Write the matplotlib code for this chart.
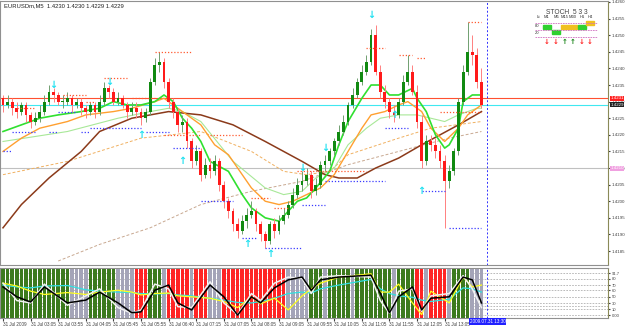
import matplotlib
matplotlib.use('Agg')
import matplotlib.pyplot as plt

plt.rcParams['font.family'] = ['Liberation Sans', 'DejaVu Sans']

W, H = 625, 327

symbol_text = 'EURUSDm,M5  1.4230 1.4230 1.4229 1.4229'

bar_open = [1.4231, 1.4229, 1.4230, 1.4228, 1.4227, 1.4229, 1.4226, 1.4224, 1.4225, 1.4227,
            1.4230, 1.4233, 1.4232, 1.4230, 1.4230, 1.4231, 1.4229, 1.4230, 1.4228, 1.4227,
            1.4229, 1.4227, 1.4230, 1.4234, 1.4233, 1.4230, 1.4231, 1.4229, 1.4227, 1.4228,
            1.4227, 1.4225, 1.4227, 1.4236, 1.4241, 1.4242, 1.4236, 1.4230, 1.4227, 1.4223,
            1.4224, 1.4218, 1.4212, 1.4215, 1.4208, 1.4211, 1.4209, 1.4212, 1.4205, 1.4200,
            1.4197, 1.4193, 1.4191, 1.4194, 1.4196, 1.4197, 1.4193, 1.4190, 1.4188, 1.4193,
            1.4191, 1.4194, 1.4196, 1.4199, 1.4202, 1.4205, 1.4206, 1.4208, 1.4203, 1.4205,
            1.4211, 1.4212, 1.4215, 1.4218, 1.4221, 1.4224, 1.4229, 1.4232, 1.4236, 1.4239,
            1.4242, 1.4250, 1.4239, 1.4233, 1.4230, 1.4227, 1.4226, 1.4230, 1.4236, 1.4239,
            1.4233, 1.4224, 1.4212, 1.4218, 1.4217, 1.4215, 1.4212, 1.4206, 1.4209, 1.4215,
            1.4230, 1.4239, 1.4245, 1.4244, 1.4236]
bar_close = [1.4229, 1.4230, 1.4228, 1.4227, 1.4229, 1.4226, 1.4224, 1.4225, 1.4227, 1.4230,
             1.4233, 1.4232, 1.4230, 1.4230, 1.4231, 1.4229, 1.4230, 1.4228, 1.4227, 1.4229,
             1.4227, 1.4230, 1.4234, 1.4233, 1.4230, 1.4231, 1.4229, 1.4227, 1.4228, 1.4227,
             1.4225, 1.4227, 1.4236, 1.4241, 1.4242, 1.4236, 1.4230, 1.4227, 1.4223, 1.4224,
             1.4218, 1.4212, 1.4215, 1.4208, 1.4211, 1.4209, 1.4212, 1.4205, 1.4200, 1.4197,
             1.4193, 1.4191, 1.4194, 1.4196, 1.4197, 1.4193, 1.4190, 1.4188, 1.4193, 1.4191,
             1.4194, 1.4196, 1.4199, 1.4202, 1.4205, 1.4206, 1.4208, 1.4203, 1.4205, 1.4211,
             1.4212, 1.4215, 1.4218, 1.4221, 1.4224, 1.4229, 1.4232, 1.4236, 1.4239, 1.4242,
             1.4250, 1.4239, 1.4233, 1.4230, 1.4227, 1.4226, 1.4230, 1.4236, 1.4239, 1.4233,
             1.4224, 1.4212, 1.4218, 1.4217, 1.4215, 1.4212, 1.4206, 1.4209, 1.4215, 1.4230,
             1.4239, 1.4245, 1.4244, 1.4236, 1.4229]
bar_high = [1.4232, 1.4232, 1.4231, 1.4230, 1.4230, 1.4230, 1.4227, 1.4227, 1.4229, 1.4232,
            1.4235, 1.4234, 1.4233, 1.4232, 1.4233, 1.4232, 1.4231, 1.4231, 1.4229, 1.4230,
            1.4230, 1.4232, 1.4236, 1.4235, 1.4234, 1.4233, 1.4232, 1.4230, 1.4230, 1.4230,
            1.4228, 1.4228, 1.4237, 1.4243, 1.4245, 1.4243, 1.4237, 1.4231, 1.4228, 1.4226,
            1.4225, 1.4219, 1.4217, 1.4216, 1.4213, 1.4213, 1.4214, 1.4213, 1.4206, 1.4201,
            1.4198, 1.4195, 1.4196, 1.4198, 1.4200, 1.4198, 1.4194, 1.4191, 1.4194, 1.4195,
            1.4196, 1.4198, 1.4200, 1.4204, 1.4207, 1.4209, 1.4210, 1.4209, 1.4207, 1.4212,
            1.4214, 1.4216, 1.4219, 1.4223, 1.4226, 1.4230, 1.4234, 1.4237, 1.4241, 1.4244,
            1.4252, 1.4253, 1.4241, 1.4235, 1.4231, 1.4229, 1.4231, 1.4238, 1.4244, 1.4241,
            1.4235, 1.4226, 1.4220, 1.4220, 1.4219, 1.4217, 1.4214, 1.4211, 1.4216, 1.4231,
            1.4241, 1.4254, 1.4250, 1.4246, 1.4240]
bar_low = [1.4227, 1.4228, 1.4226, 1.4225, 1.4226, 1.4224, 1.4222, 1.4223, 1.4224, 1.4226,
           1.4229, 1.4230, 1.4229, 1.4228, 1.4229, 1.4227, 1.4228, 1.4226, 1.4225, 1.4226,
           1.4225, 1.4226, 1.4229, 1.4231, 1.4229, 1.4229, 1.4228, 1.4225, 1.4226, 1.4225,
           1.4223, 1.4224, 1.4226, 1.4235, 1.4239, 1.4234, 1.4228, 1.4225, 1.4221, 1.4221,
           1.4216, 1.4210, 1.4211, 1.4206, 1.4207, 1.4207, 1.4208, 1.4203, 1.4198, 1.4195,
           1.4191, 1.4189, 1.4190, 1.4192, 1.4195, 1.4191, 1.4188, 1.4186, 1.4187, 1.4189,
           1.4190, 1.4193, 1.4195, 1.4198, 1.4201, 1.4203, 1.4205, 1.4201, 1.4202, 1.4204,
           1.4209, 1.4211, 1.4214, 1.4217, 1.4220, 1.4223, 1.4228, 1.4231, 1.4235, 1.4238,
           1.4241, 1.4238, 1.4231, 1.4228, 1.4225, 1.4224, 1.4225, 1.4229, 1.4235, 1.4232,
           1.4222, 1.4210, 1.4211, 1.4215, 1.4213, 1.4210, 1.4192, 1.4204, 1.4208, 1.4214,
           1.4229, 1.4238, 1.4241, 1.4234, 1.4228]

fast_idx = [0, 4, 8, 12, 17, 21, 24, 27, 30, 33, 35, 37, 39, 41, 43, 45, 49, 52, 54, 57, 60,
            62, 64, 66, 68, 71, 73, 75, 78, 80, 82, 84, 86, 89, 90, 92, 94, 96, 97, 99, 100, 102, 104]
fast_ma = [1.4221, 1.4223, 1.4225, 1.4226, 1.4227, 1.4228, 1.4230, 1.4229, 1.4229, 1.4230, 1.4232,
           1.4230, 1.4225, 1.4222, 1.4218, 1.4212, 1.4209, 1.4202, 1.4198, 1.4195, 1.4194,
           1.4197, 1.4200, 1.4201, 1.4204, 1.4209, 1.4217, 1.4224, 1.4231, 1.4235, 1.4235,
           1.4232, 1.4232, 1.4234, 1.4231, 1.4227, 1.4220, 1.4216, 1.4217, 1.4222, 1.4230,
           1.4232, 1.4232]
mid_idx = [0, 4, 8, 14, 18, 24, 28, 33, 35, 37, 40, 43, 46, 49, 52, 54, 57, 60, 63, 66, 69,
           72, 75, 78, 80, 83, 86, 88, 91, 93, 96, 99, 101, 103, 104]
mid_ma = [1.4215, 1.4219, 1.4222, 1.4224, 1.4226, 1.4227, 1.4228, 1.4230, 1.4231, 1.4229,
          1.4226, 1.4223, 1.4217, 1.4214, 1.4208, 1.4204, 1.4200, 1.4199, 1.4200, 1.4202,
          1.4204, 1.4208, 1.4215, 1.4222, 1.4226, 1.4227, 1.4229, 1.4230, 1.4227, 1.4222,
          1.4218, 1.4222, 1.4226, 1.4228, 1.4229]
slow_idx = [0, 14, 25, 32, 36, 39, 43, 50, 57, 61, 65, 68, 72, 75, 79, 82, 86, 90, 93, 96, 99, 103, 104]
slow_ma = [1.4218, 1.4221, 1.4225, 1.4227, 1.4228, 1.4227, 1.4224, 1.4212, 1.4204, 1.4202,
           1.4203, 1.4207, 1.4210, 1.4217, 1.4222, 1.4225, 1.4226, 1.4226, 1.4225, 1.4224,
           1.4226, 1.4228, 1.4228]
ma50_idx = [0, 14, 30, 43, 54, 61, 66, 71, 75, 86, 93, 104]
ma50 = [1.4208, 1.4212, 1.4219, 1.4221, 1.4215, 1.4209, 1.4208, 1.4209, 1.4214, 1.4219, 1.4222, 1.4224]
ma100_idx = [0, 4, 10, 17, 21, 28, 36, 43, 50, 57, 65, 70, 73, 77, 81, 86, 91, 95, 99, 104]
ma100 = [1.4192, 1.4199, 1.4207, 1.4215, 1.4221, 1.4225, 1.4227, 1.4226, 1.4223, 1.4218,
         1.4212, 1.4208, 1.4207, 1.4207, 1.4210, 1.4213, 1.4217, 1.4220, 1.4223, 1.4227]
ma200_idx = [12, 21, 32, 43, 54, 65, 75, 86, 97, 104]
ma200 = [1.4182, 1.4187, 1.4192, 1.4199, 1.4203, 1.4206, 1.4211, 1.4215, 1.4219, 1.4221]

ask_line = 1.4231
bid_line = 1.4229
level_line = 1.4210
price_ticks = [1.4260, 1.4255, 1.4250, 1.4245, 1.4240, 1.4235, 1.4230, 1.4225, 1.4220,
               1.4215, 1.4210, 1.4205, 1.4200, 1.4195, 1.4190, 1.4185]

# (first bar, last bar, price)
resist_levels = [(3, 7, 1.4228), (13, 18, 1.4232), (18, 20, 1.4230), (22, 27, 1.4237),
                 (28, 33, 1.4231), (33, 41, 1.4245), (35, 43, 1.4220), (45, 52, 1.4220),
                 (54, 58, 1.4201), (59, 62, 1.4198), (64, 79, 1.4209), (79, 83, 1.4246),
                 (86, 89, 1.4244), (90, 92, 1.4243), (95, 104, 1.4227), (101, 104, 1.4254)]
support_levels = [(0, 2, 1.4215), (2, 7, 1.4221), (10, 12, 1.4221), (12, 16, 1.4227),
                  (17, 19, 1.4221), (19, 30, 1.4222), (31, 36, 1.4221), (37, 43, 1.4216),
                  (43, 50, 1.4200), (52, 55, 1.4189), (57, 65, 1.4186), (65, 70, 1.4199),
                  (70, 83, 1.4206), (83, 88, 1.4222), (91, 96, 1.4203), (97, 104, 1.4192)]
down_arrows = [(11, 1.4235), (23, 1.4236), (65, 1.4210), (70, 1.4216), (80, 1.4256)]
up_arrows = [(30, 1.4220), (39, 1.4212), (53, 1.4187), (58, 1.4184), (85, 1.4226), (91, 1.4203)]

# stochastic sub window
stoch_idx = [0, 3, 6, 9, 14, 18, 21, 25, 28, 30, 33, 36, 38, 41, 45, 48, 51, 54, 56, 59,
             62, 65, 67, 69, 73, 80, 82, 84, 86, 89, 91, 93, 97, 100, 102, 104]
stoch_black = [64, 43, 32, 64, 30, 36, 53, 30, 9, 11, 57, 68, 30, 15, 68, 43, 4, 43, 30, 62,
               79, 85, 57, 79, 85, 89, 51, 9, 43, 64, 15, 40, 43, 85, 79, 30]
stoch_white = [72, 35, 30, 70, 25, 45, 60, 20, 8, 15, 70, 60, 22, 20, 75, 30, 5, 50, 35, 72,
               85, 82, 50, 85, 88, 85, 35, 8, 55, 60, 12, 45, 50, 88, 60, 20]
stoch_cyan = [68, 64, 62, 66, 67, 58, 55, 53, 52, 50, 49, 50, 47, 45, 40, 36, 31, 30, 33, 40,
              50, 53, 51, 60, 68, 80, 60, 50, 45, 42, 36, 33, 38, 62, 60, 53]
stoch_yellow = [72, 66, 55, 48, 52, 48, 53, 57, 53, 47, 50, 51, 45, 43, 40, 33, 20, 43, 28, 40,
                15, 45, 60, 72, 85, 92, 53, 53, 70, 30, 5, 55, 30, 85, 64, 68]
stripe_state = ('GGGGGGGGGGGGGGG' 'SSSS' 'GGGGGG' 'SSSS' 'RRR' 'GGG' 'S' 'RRRRR' 'S' 'RRR'
                'SSS' 'RRRRRRRRRRRRRR' 'SSSSS' 'GGGSGGGGGSGGGGGGGGSGGGG' 'RR' 'S' 'RRRR'
                'S' 'GGGG' 'SSS')
sub_levels = [93.6, 80.9, 68.1, 57.4, 42.6, 29.8, 23.4, 17.0, 4.0]
sub_tick_vals = [93.6, 80.9, 68.1, 57.4, 42.6, 29.8, 17.0, 4.0]
sub_labels = ['91.7', '80', '70', '60', '50', '30', '10', '0.00']

time_idx = [0, 6, 12, 18, 24, 30, 36, 42, 48, 54, 60, 66, 72, 78, 84, 90, 96]
time_labels = ['31 Jul 2009', '31 Jul 03:05', '31 Jul 03:55', '31 Jul 04:05', '31 Jul 05:45',
               '31 Jul 05:55', '31 Jul 06:40', '31 Jul 07:15', '31 Jul 07:05', '31 Jul 08:05',
               '31 Jul 09:05', '31 Jul 09:55', '31 Jul 10:05', '31 Jul 11:05', '31 Jul 11:55',
               '31 Jul 12:05', '31 Jul 13:05']
cursor_bar = 105.2
cursor_text = '2009.07.31 13:30'

# multi timeframe stoch panel
tf_labels = ['Lt', 'M1', 'M5', 'M15', 'M30', 'H1', 'H4']
tf_state = ['G', 'G', 'Y', 'Y', 'G', 'Y']
tf_row = [27, 32, 27, 27, 27, 23]
tf_dir = ['down', 'down', 'up', 'up', 'down', 'down']


def px(x, y):
    return x / W, 1 - y / H


fig = plt.figure(figsize=(W / 100, H / 100), dpi=100)
fig.patch.set_facecolor('white')
ax = fig.add_axes([0, (H - 265) / H, 608 / W, 264 / H])
ax2 = fig.add_axes([0, (H - 318) / H, 608 / W, 50 / H], sharex=ax)

ax.set_xlim(-0.65, 131.5)
ax.set_ylim(1.41808, 1.42603)

for a in (ax, ax2):
    for s in a.spines.values():
        s.set_color('#909090')
        s.set_linewidth(0.8)
    a.spines['right'].set_color('#8a8a58')
    a.set_facecolor('white')

# horizontal price lines
ax.axhline(level_line, color='#c0c0c0', lw=0.8, zorder=1)
ax.axhline(ask_line, color='#ff5030', lw=0.8, zorder=1)
ax.axhline(bid_line, color='#40e8f0', lw=0.8, zorder=1)

# moving averages
ax.plot(ma200_idx, ma200, color='#c8a890', lw=0.7, ls=(0, (3, 2)), zorder=2)
ax.plot(ma50_idx, ma50, color='#f0b060', lw=0.7, ls=(0, (3, 2)), zorder=2)
ax.plot(slow_idx, slow_ma, color='#a8e898', lw=0.8, zorder=2)
ax.plot(ma100_idx, ma100, color='#8b3a1a', lw=1.1, zorder=2)
ax.plot(mid_idx, mid_ma, color='#ffa030', lw=1.0, zorder=3)
ax.plot(fast_idx, fast_ma, color='#30e030', lw=1.2, zorder=3)

# candles
n = len(bar_close)
idx = list(range(n))
body_col = ['#118a11' if c >= o else '#ff1a1a' for o, c in zip(bar_open, bar_close)]
wick_col = ['#70a070' if c >= o else '#ff8080' for o, c in zip(bar_open, bar_close)]
ax.vlines(idx, bar_low, bar_high, colors=wick_col, lw=0.7, zorder=4)
bottoms = [min(o, c) for o, c in zip(bar_open, bar_close)]
heights = [max(abs(c - o), 0.00002) for o, c in zip(bar_open, bar_close)]
ax.bar(idx, heights, bottom=bottoms, width=0.62, color=body_col, zorder=5, linewidth=0)

# dotted support / resistance
for a0, a1, p in resist_levels:
    ax.plot([a0, a1], [p, p], color='#ff5a30', lw=0.9, ls=(0, (1, 1.5)), zorder=6)
for a0, a1, p in support_levels:
    ax.plot([a0, a1], [p, p], color='#3a3aff', lw=0.9, ls=(0, (1, 1.5)), zorder=6)
for i, p in down_arrows:
    ax.text(i, p, '\u2193', color='#20e0f0', fontsize=7, fontweight='bold', family='DejaVu Sans',
            ha='center', va='center', zorder=7)
for i, p in up_arrows:
    ax.text(i, p, '\u2191', color='#20e0f0', fontsize=7, fontweight='bold', family='DejaVu Sans',
            ha='center', va='center', zorder=7)

ax.axvline(cursor_bar, color='#3030ff', lw=0.7, ls=(0, (2, 2)), zorder=6)

# right price scale
ax.yaxis.tick_right()
ax.set_yticks(price_ticks)
ax.set_yticklabels(['%.4f' % t for t in price_ticks])
ax.tick_params(axis='y', labelsize=3.2, length=1.5, pad=1, colors='#404040')
ax.tick_params(axis='x', bottom=False, labelbottom=False)

for p, txt, bg in [(ask_line, '1.4231', '#ff2020'), (bid_line, '1.4229', '#202020'),
                   (level_line, '1.4210', '#f0a0e0')]:
    ax.text(1.004, p, txt, transform=ax.get_yaxis_transform(), fontsize=3.2, color='white',
            va='center', ha='left', bbox=dict(boxstyle='square,pad=0.12', fc=bg, ec='none'))

fig.text(*px(4, 6), symbol_text, fontsize=4.2, va='center', ha='left', color='#202020')

# multi timeframe panel
fig.text(*px(567, 12), 'STOCH  5 3 3', fontsize=4.8, ha='center', va='center', color='#404040')
col_x = [538, 547, 556, 565, 573, 582, 590]
for x, lab in zip(col_x, tf_labels):
    fig.text(*px(x, 17), lab, fontsize=3.0, ha='center', va='center', color='#303030')
for y in (23, 30, 37):
    fig.add_artist(plt.Line2D([535 / W, 597 / W], [1 - y / H, 1 - y / H], color='#d070c0',
                              lw=0.6, ls=(0, (2, 1))))
fig.text(*px(537, 26), '80', fontsize=3.0, ha='center', va='center', color='#303030')
fig.text(*px(537, 33), '20', fontsize=3.0, ha='center', va='center', color='#303030')
for x, st, row, d in zip(col_x[1:], tf_state, tf_row, tf_dir):
    c = '#30d030' if st == 'G' else '#f0c020'
    fig.add_artist(plt.Rectangle(((x - 4) / W, 1 - (row + 2) / H), 8 / W, 4 / H, color=c))
    fig.text(*px(x, 42), '\u2191' if d == 'up' else '\u2193', fontsize=5, fontweight='bold',
             family='DejaVu Sans', ha='center', va='center',
             color='#108010' if d == 'up' else '#ff2020')

# stochastic window
ax2.set_ylim(-2.1, 104.3)
for lv in sub_levels:
    ax2.axhline(lv, color='#b0b0b0', lw=0.6, ls=(0, (2, 1.5)), zorder=0)
stripe_col = {'G': '#3c7a1e', 'R': '#ff2424', 'S': '#a4a4b8'}
ax2.bar(idx, 106.4, bottom=-2.1, width=0.78, color=[stripe_col[s] for s in stripe_state],
        linewidth=0, zorder=1)
ax2.plot(stoch_idx, stoch_cyan, color='#30e0e0', lw=0.9, zorder=3)
ax2.plot(stoch_idx, stoch_yellow, color='#ffff20', lw=0.9, zorder=3)
ax2.plot(stoch_idx, stoch_white, color='#f0f0f0', lw=1.1, zorder=4)
ax2.plot(stoch_idx, stoch_black, color='#000000', lw=1.1, zorder=5)
ax2.axvline(cursor_bar, color='#3030ff', lw=0.7, ls=(0, (2, 2)), zorder=6)

ax2.yaxis.tick_right()
ax2.set_yticks(sub_tick_vals)
ax2.set_yticklabels(sub_labels)
ax2.tick_params(axis='y', labelsize=3.0, length=1.5, pad=1, colors='#404040')
ax2.set_xticks(time_idx)
ax2.set_xticklabels(time_labels, ha='left')
ax2.tick_params(axis='x', labelsize=3.3, length=2, pad=1, colors='#404040')

fig.text(*px(470, 321.5), cursor_text, fontsize=3.3, color='white', ha='left', va='center',
         bbox=dict(boxstyle='square,pad=0.15', fc='#2020ff', ec='none'))

fig.savefig('out.png', dpi=100, facecolor='white')
